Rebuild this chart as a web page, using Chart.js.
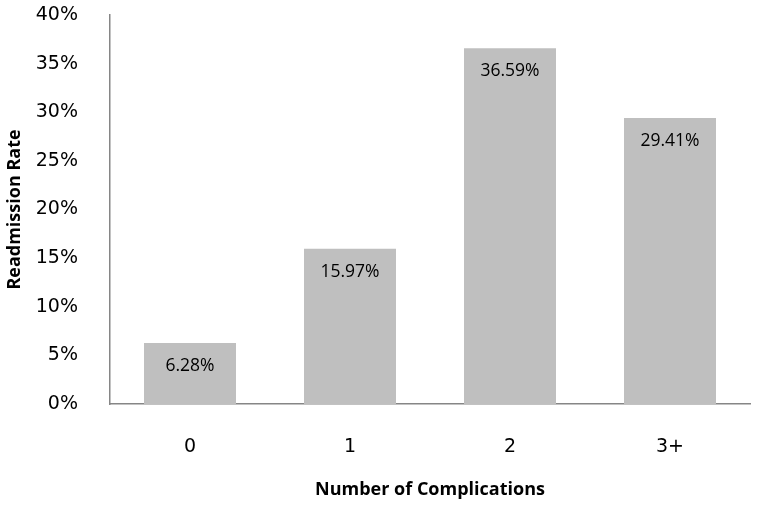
<!DOCTYPE html>
<html>
<head>
<meta charset="utf-8">
<script src="https://cdn.jsdelivr.net/npm/chart.js@4"></script>
<style>
  html, body { margin: 0; padding: 0; background: #fff; }
  #wrap { width: 757px; height: 505px; }
</style>
</head>
<body>
<div id="wrap"><canvas id="chart" width="757" height="505"></canvas></div>
<script>
const categories = ["0", "1", "2", "3+"];
const readmissionRates = [6.28, 15.97, 36.59, 29.41];
const yTicks = [0, 5, 10, 15, 20, 25, 30, 35, 40];

// labels drawn inside each bar near its top
const barValueLabels = {
    id: "barValueLabels",
    afterDatasetsDraw(chart) {
        const ctx = chart.ctx;
        const meta = chart.getDatasetMeta(0);
        ctx.save();
        ctx.font = "17.5px 'Open Sans'";
        ctx.fillStyle = "#000";
        ctx.textAlign = "center";
        ctx.textBaseline = "middle";
        meta.data.forEach((bar, i) => {
            ctx.fillText(readmissionRates[i].toFixed(2) + "%", bar.x, bar.y + 23);
        });
        ctx.restore();
    },
};

const ctx = document.getElementById("chart").getContext("2d");
new Chart(ctx, {
    type: "bar",
    data: {
        labels: categories,
        datasets: [{
            data: readmissionRates,
            backgroundColor: "#bfbfbf",
            borderWidth: 0,
            categoryPercentage: 1,
            barPercentage: 0.575,
        }],
    },
    options: {
        responsive: false,
        animation: false,
        layout: { autoPadding: false, padding: { left: 0, right: 7, top: 15, bottom: 0 } },
        plugins: {
            legend: { display: false },
            tooltip: { enabled: false },
        },
        scales: {
            x: {
                grid: { display: false },
                border: { display: true, color: "#868686", width: 1.5 },
                ticks: {
                    color: "#000",
                    padding: 24,
                    font: { family: "'DejaVu Sans'", size: 19 },
                },
                title: {
                    display: true,
                    text: "Number of Complications",
                    color: "#000",
                    font: { family: "'Open Sans'", size: 18, weight: "bold" },
                    padding: { top: 0, bottom: 4 },
                },
                afterFit: (scale) => {
                    scale.height = 101;
                    scale.paddingLeft = 0;
                    scale.paddingRight = 0;
                },
            },
            y: {
                min: 0,
                max: 40,
                grid: { display: false },
                border: { display: true, color: "#868686", width: 1.5 },
                afterBuildTicks: (scale) => {
                    scale.ticks = yTicks.map((v) => ({ value: v }));
                },
                ticks: {
                    color: "#000",
                    padding: 24,
                    font: { family: "'DejaVu Sans'", size: 19 },
                    callback: (v) => v + "%",
                },
                title: {
                    display: true,
                    text: "Readmission Rate",
                    color: "#000",
                    font: { family: "'Open Sans'", size: 18, weight: "bold" },
                    padding: { top: 4, bottom: 0 },
                },
                afterFit: (scale) => {
                    scale.width = 110;
                    scale.paddingTop = 0;
                    scale.paddingBottom = 0;
                },
            },
        },
    },
    plugins: [barValueLabels],
});
</script>
</body>
</html>
